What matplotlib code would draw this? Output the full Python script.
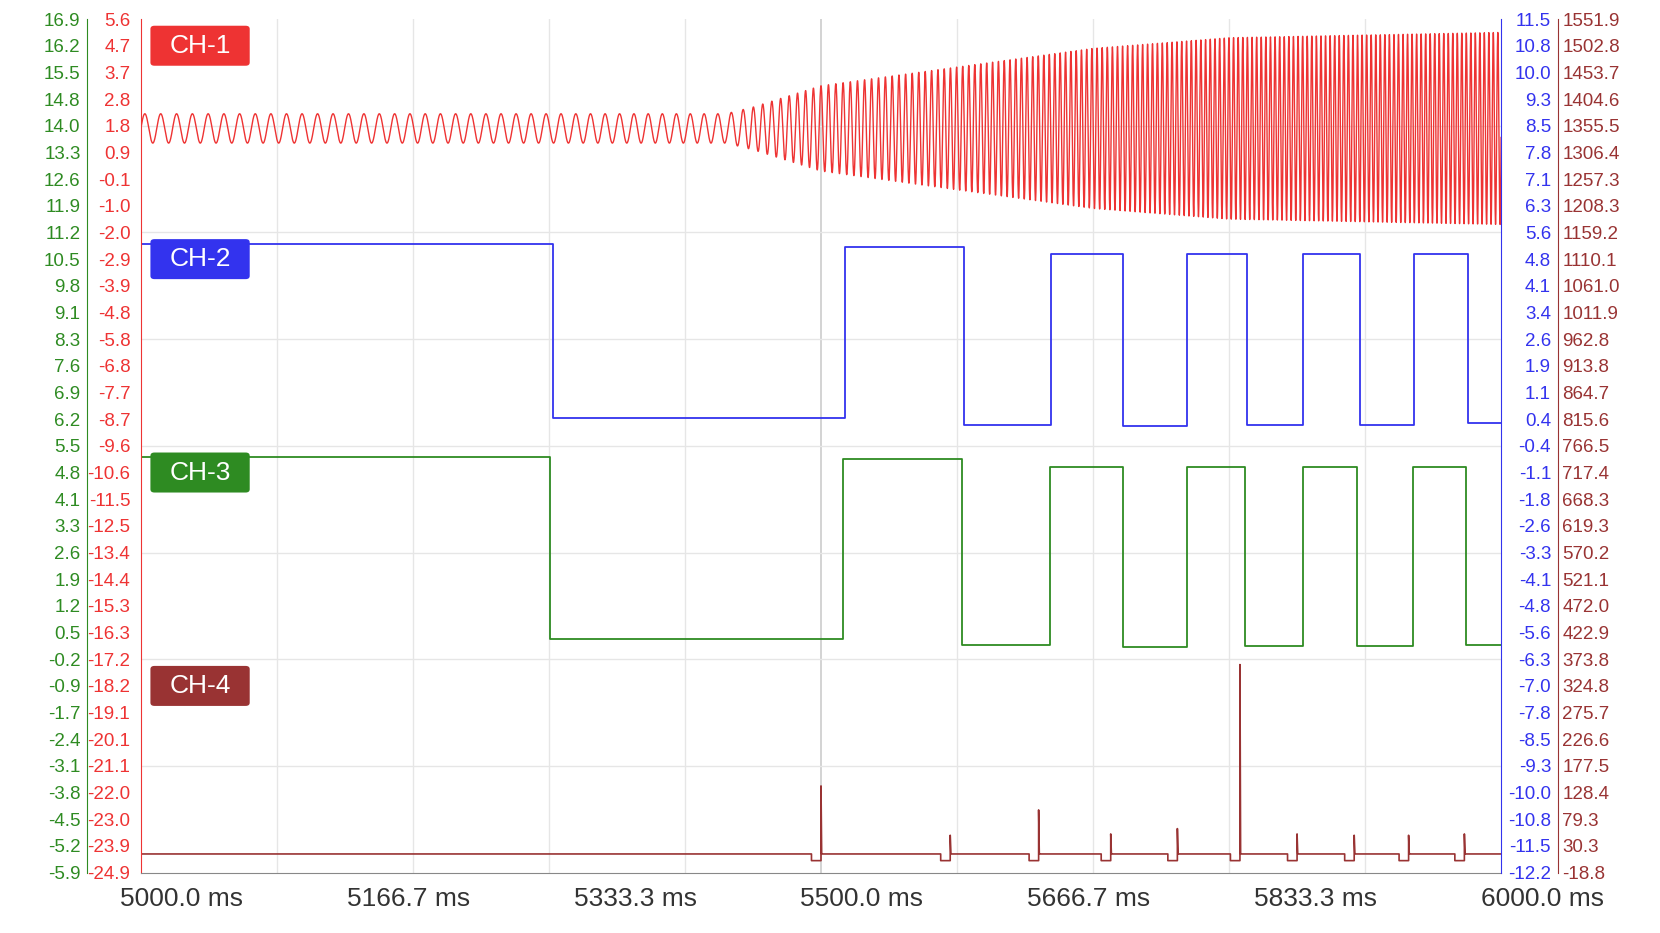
import numpy as np
import matplotlib.pyplot as plt
from matplotlib.patches import FancyBboxPatch
from matplotlib.transforms import ScaledTranslation

plt.rcParams['font.family'] = ['Liberation Sans', 'DejaVu Sans']

# ---- tick label columns (top to bottom) ----
green_labels = ["16.9", "16.2", "15.5", "14.8", "14.0", "13.3", "12.6", "11.9", "11.2", "10.5", "9.8",
                "9.1", "8.3", "7.6", "6.9", "6.2", "5.5", "4.8", "4.1", "3.3", "2.6", "1.9", "1.2",
                "0.5", "-0.2", "-0.9", "-1.7", "-2.4", "-3.1", "-3.8", "-4.5", "-5.2", "-5.9"]
red_labels = ["5.6", "4.7", "3.7", "2.8", "1.8", "0.9", "-0.1", "-1.0", "-2.0", "-2.9", "-3.9",
              "-4.8", "-5.8", "-6.8", "-7.7", "-8.7", "-9.6", "-10.6", "-11.5", "-12.5", "-13.4",
              "-14.4", "-15.3", "-16.3", "-17.2", "-18.2", "-19.1", "-20.1", "-21.1", "-22.0",
              "-23.0", "-23.9", "-24.9"]
blue_labels = ["11.5", "10.8", "10.0", "9.3", "8.5", "7.8", "7.1", "6.3", "5.6", "4.8", "4.1",
               "3.4", "2.6", "1.9", "1.1", "0.4", "-0.4", "-1.1", "-1.8", "-2.6", "-3.3", "-4.1",
               "-4.8", "-5.6", "-6.3", "-7.0", "-7.8", "-8.5", "-9.3", "-10.0", "-10.8", "-11.5",
               "-12.2"]
dred_labels = ["1551.9", "1502.8", "1453.7", "1404.6", "1355.5", "1306.4", "1257.3", "1208.3",
               "1159.2", "1110.1", "1061.0", "1011.9", "962.8", "913.8", "864.7", "815.6", "766.5",
               "717.4", "668.3", "619.3", "570.2", "521.1", "472.0", "422.9", "373.8", "324.8",
               "275.7", "226.6", "177.5", "128.4", "79.3", "30.3", "-18.8"]
x_ticks = [5000.0, 5166.7, 5333.3, 5500.0, 5666.7, 5833.3, 6000.0]

# ---- CH-1 oscillation: envelope (time ms, half amplitude, period ms) ----
ch1_t = [5000, 5300, 5430, 5450, 5500, 5600, 5700, 5800, 6000]
ch1_amp = [0.55, 0.55, 0.55, 0.8, 1.6, 2.3, 3.0, 3.4, 3.6]
ch1_period = [11.7, 11.0, 10.0, 7.0, 5.5, 4.5, 3.8, 3.4, 3.3]
ch1_center = 27.9

# ---- CH-2 / CH-3 square waves: edge times and levels ----
ch2_edges = [5000, 5303, 5518, 5605, 5669, 5722, 5769, 5813, 5854, 5896, 5936, 5976, 6000]
ch2_levels = [23.55, 17.04, 23.45, 16.8, 23.2, 16.75, 23.2, 16.8, 23.2, 16.8, 23.2, 16.85]
ch3_edges = [5000, 5301, 5516, 5604, 5668, 5722, 5769, 5812, 5854, 5894, 5935, 5974, 6000]
ch3_levels = [15.6, 8.75, 15.5, 8.55, 15.2, 8.45, 15.2, 8.5, 15.2, 8.5, 15.2, 8.55]

# ---- CH-4 spikes ----
ch4_base = 0.7
ch4_spike_t = [5500, 5595, 5660, 5713, 5762, 5808, 5850, 5892, 5932, 5973]
ch4_spike_h = [2.55, 0.7, 1.65, 0.75, 0.95, 7.1, 0.75, 0.7, 0.7, 0.75]

C1, C2, C3, C4 = "#ee3333", "#3333ee", "#2e8b22", "#993333"

W, H = 1567, 881  # reference pixel frame used for measuring
PT = 72 / 100 * 1660 / W  # reference px -> points
fig = plt.figure(figsize=(16.6, 9.33), dpi=100)
ax = fig.add_axes([133 / W, 1 - 824 / H, 1284 / W, 806 / H])
ax.set_xlim(5000, 6000)
ax.set_ylim(0, 32)

# grid
for gx in np.arange(5100, 6000, 100):
    ax.axvline(gx, color="#cccccc" if gx == 5500 else "#e6e6e6", lw=1.2 if gx == 5500 else 1, zorder=0)
for gy in [4, 8, 12, 16, 20, 24, 28]:
    ax.axhline(gy, color="#e6e6e6", lw=1, zorder=0)

# CH-1
t = np.linspace(5000, 6000, 40000)
per = np.interp(t, ch1_t, ch1_period)
phase = np.cumsum(np.gradient(t) / per) * 2 * np.pi
ax.plot(t, ch1_center + np.interp(t, ch1_t, ch1_amp) * np.sin(phase), color=C1, lw=1.0)

# CH-2 / CH-3
def square(edges, levels):
    xs, ys = [], []
    for i, lv in enumerate(levels):
        xs += [edges[i], edges[i + 1]]
        ys += [lv, lv]
    return xs, ys

ax.plot(*square(ch2_edges, ch2_levels), color=C2, lw=1.3)
ax.plot(*square(ch3_edges, ch3_levels), color=C3, lw=1.3)

# CH-4
xs, ys = [5000], [ch4_base]
for st, sh in zip(ch4_spike_t, ch4_spike_h):
    xs += [st - 7, st - 7, st, st, st + 0.5, st + 1, st + 1]
    ys += [ch4_base, ch4_base - 0.25, ch4_base - 0.25, ch4_base + sh, ch4_base, ch4_base, ch4_base]
xs.append(6000)
ys.append(ch4_base)
ax.plot(xs, ys, color=C4, lw=1.2)

# channel tags
for name, col, ytop in [("CH-1", C1, 32), ("CH-2", C2, 24), ("CH-3", C3, 16), ("CH-4", C4, 8)]:
    box = FancyBboxPatch((5007, ytop - 1.75), 73, 1.5, boxstyle="round,pad=0,rounding_size=3",
                         transform=ax.transData, fc=col, ec="none", zorder=5,
                         mutation_aspect=0.04)
    ax.add_patch(box)
    ax.text(5043.5, ytop - 1.0, name, color="white", fontsize=19, ha="center", va="center", zorder=6)

yt = np.arange(32, -1, -1)
fs = 13.5

# x axis
ax.set_xticks(x_ticks)
ax.set_xticklabels([f"{v:.1f} ms" for v in x_ticks], fontsize=19, color="#333333")
ax.tick_params(axis="x", length=0, pad=10)
off = ScaledTranslation(0.41, 0, fig.dpi_scale_trans)
for lab in ax.get_xticklabels():
    lab.set_transform(lab.get_transform() + off)

# red left axis (main)
ax.set_yticks(yt)
ax.set_yticklabels(red_labels, fontsize=fs, color=C1)
ax.tick_params(axis="y", length=0, pad=10 * PT)
ax.spines["left"].set_color(C1)
ax.spines["bottom"].set_color("#888888")
ax.spines["top"].set_visible(False)
ax.spines["right"].set_visible(False)

# green left axis
axg = ax.twinx()
axg.set_ylim(0, 32)
axg.yaxis.tick_left()
axg.spines["left"].set_position(("outward", 51 * PT))
axg.spines["left"].set_color(C3)
for s in ["right", "top", "bottom"]:
    axg.spines[s].set_visible(False)
axg.set_yticks(yt)
axg.set_yticklabels(green_labels, fontsize=fs, color=C3)
axg.tick_params(axis="y", length=0, pad=6 * PT)

# blue right axis
axb = ax.twinx()
axb.set_ylim(0, 32)
axb.spines["right"].set_color(C2)
for s in ["left", "top", "bottom"]:
    axb.spines[s].set_visible(False)
axb.set_yticks(yt)
axb.set_yticklabels(blue_labels, fontsize=fs, color=C2, ha="right")
axb.tick_params(axis="y", length=0, pad=36)

# dark red right axis
axr = ax.twinx()
axr.set_ylim(0, 32)
axr.spines["right"].set_position(("outward", 54 * PT))
axr.spines["right"].set_color(C4)
for s in ["left", "top", "bottom"]:
    axr.spines[s].set_visible(False)
axr.set_yticks(yt)
axr.set_yticklabels(dred_labels, fontsize=fs, color=C4)
axr.tick_params(axis="y", length=0, pad=3)

fig.savefig("out.png", dpi=100)
